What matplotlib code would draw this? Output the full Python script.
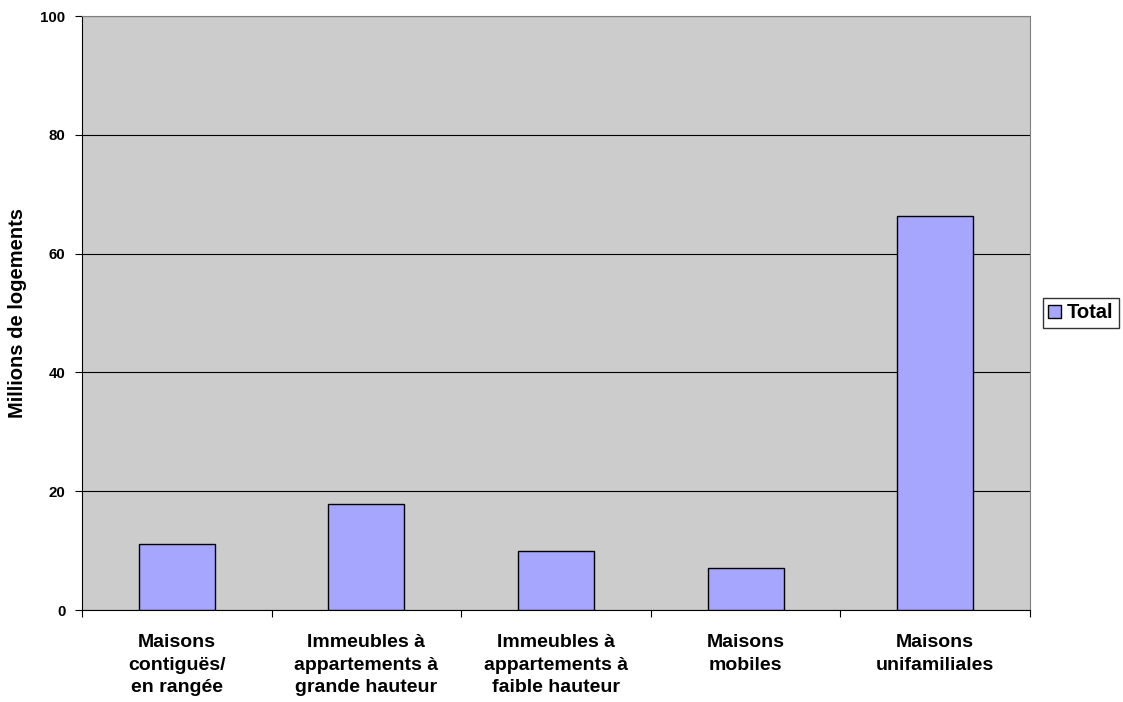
import matplotlib
matplotlib.use("Agg")
import matplotlib.pyplot as plt
import numpy as np

plt.rcParams['font.family'] = ['Liberation Sans', 'DejaVu Sans']

categories = ["Maisons\ncontiguës/\nen rangée",
              "Immeubles à\nappartements à\ngrande hauteur",
              "Immeubles à\nappartements à\nfaible hauteur",
              "Maisons\nmobiles",
              "Maisons\nunifamiliales"]
totals = [11.1, 17.8, 9.9, 7.1, 66.3]
yticks = [0, 20, 40, 60, 80, 100]

fig = plt.figure(figsize=(11.23, 7.02), dpi=100)
ax = fig.add_axes([82/1123, 1 - 610/702, (1030-82)/1123, (610-16)/702])
ax.set_facecolor('#cccccc')

x = np.arange(len(categories))
bars = ax.bar(x, totals, width=0.4, color='#a6a6ff', edgecolor='black',
              linewidth=1.0, label='Total', zorder=3)

ax.set_xlim(-0.5, len(categories) - 0.5)
ax.set_ylim(0, 100)
ax.set_yticks(yticks)
ax.set_yticklabels([str(v) for v in yticks], fontsize=10.8, fontweight='bold')
ax.yaxis.grid(True, color='black', linewidth=0.8, zorder=1)
ax.set_axisbelow(True)
ax.tick_params(axis='y', direction='out', length=5, width=0.8, pad=7)

# category labels centered, ticks at category boundaries
ax.set_xticks(np.arange(len(categories) + 1) - 0.5)
ax.set_xticklabels([])
ax.tick_params(axis='x', direction='out', length=5, width=0.8)
for xi, lab in zip(x, categories):
    ax.annotate(lab, xy=(xi, 0), xycoords=('data', 'axes fraction'),
                xytext=(0, -17.5), textcoords='offset points',
                ha='center', va='top', fontsize=14, fontweight='bold',
                linespacing=1.4, annotation_clip=False)

ax.set_ylabel("Millions de logements", fontsize=14.5, fontweight='bold')
ax.yaxis.set_label_coords(-(82 - 27) / 948, 0.5)

for s in ['top', 'right']:
    ax.spines[s].set_color('#808080')
    ax.spines[s].set_linewidth(0.8)
ax.spines['left'].set_color('black')
ax.spines['bottom'].set_color('black')

leg = fig.legend(handles=[bars], labels=['Total'], loc='center left',
                 bbox_to_anchor=(1043/1123, 1 - 313/702),
                 prop={'weight': 'bold', 'size': 14.5},
                 frameon=True, fancybox=False, edgecolor='black',
                 handlelength=0.65, handleheight=0.65, handletextpad=0.3,
                 borderpad=0.25, borderaxespad=0)
leg.get_frame().set_linewidth(1.0)

fig.savefig("out.png", dpi=100)
